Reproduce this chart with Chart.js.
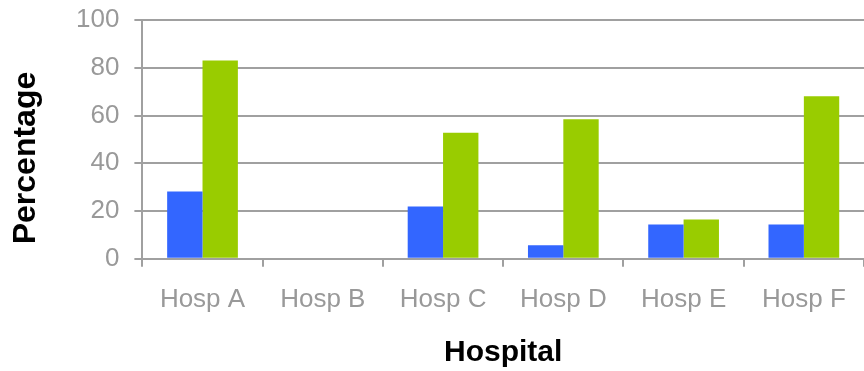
<!DOCTYPE html>
<html>
<head>
<meta charset="utf-8">
<script src="https://cdn.jsdelivr.net/npm/chart.js@4/dist/chart.umd.min.js"></script>
<style>
  html, body { margin: 0; padding: 0; background: #ffffff; }
  #wrap { width: 864px; height: 371px; position: relative; }
</style>
</head>
<body>
<div id="wrap"><canvas id="chart"></canvas></div>
<script>
// Hospitals on the category axis
const hospitals = ['Hosp A', 'Hosp B', 'Hosp C', 'Hosp D', 'Hosp E', 'Hosp F'];
// Percentages per hospital for the two series
const seriesBlue = [28.2, 0, 21.9, 5.7, 14.4, 14.4];
const seriesGreen = [83.0, 0, 52.8, 58.4, 16.5, 68.1];
// Value axis range and step
const yMin = 0;
const yMax = 100;
const yStep = 20;

const FONT = '"Liberation Sans", Arial, sans-serif';
const GRID = '#a0a0a0';

// Rotated value-axis title, centred on the bars' vertical span
const yTitlePlugin = {
  id: 'yTitle',
  afterDraw(chart) {
    const ctx = chart.ctx;
    ctx.save();
    ctx.translate(26, 158);
    ctx.rotate(-Math.PI / 2);
    ctx.font = 'bold 32px ' + FONT;
    ctx.fillStyle = '#000000';
    ctx.textAlign = 'center';
    ctx.textBaseline = 'middle';
    ctx.fillText('Percentage', 0, 0);
    ctx.restore();
  }
};

new Chart(document.getElementById('chart'), {
  type: 'bar',
  data: {
    labels: hospitals,
    datasets: [
      { data: seriesBlue, backgroundColor: '#3366ff', borderWidth: 0 },
      { data: seriesGreen, backgroundColor: '#99cc00', borderWidth: 0 }
    ]
  },
  options: {
    responsive: true,
    maintainAspectRatio: false,
    animation: false,
    events: [],
    layout: { padding: { left: 61, right: 0, top: 20, bottom: 0 } },
    datasets: { bar: { barPercentage: 1.0, categoryPercentage: 0.588 } },
    plugins: { legend: { display: false }, tooltip: { enabled: false } },
    scales: {
      x: {
        grid: {
          display: true,
          drawOnChartArea: false,
          drawTicks: true,
          offset: true,
          tickLength: 8,
          color: GRID,
          lineWidth: 2
        },
        border: { display: true, color: GRID, width: 2 },
        ticks: {
          color: '#999999',
          font: { family: FONT, size: 26 },
          padding: 17,
          maxRotation: 0,
          autoSkip: false
        },
        title: {
          display: true,
          text: 'Hospital',
          color: '#000000',
          font: { family: FONT, size: 30, weight: 'bold' },
          padding: { top: 3, bottom: 0 }
        }
      },
      y: {
        min: yMin,
        max: yMax,
        // top/bottom room is set by the layout padding instead of the label overhang
        afterFit(scale) {
          scale.paddingTop = 0;
          scale.paddingBottom = 0;
        },
        grid: {
          color: GRID,
          lineWidth: 2,
          drawTicks: true,
          tickLength: 8
        },
        border: { display: true, color: GRID, width: 2 },
        ticks: {
          stepSize: yStep,
          color: '#999999',
          font: { family: FONT, size: 26 },
          padding: 15
        }
      }
    }
  },
  plugins: [yTitlePlugin]
});
</script>
</body>
</html>
